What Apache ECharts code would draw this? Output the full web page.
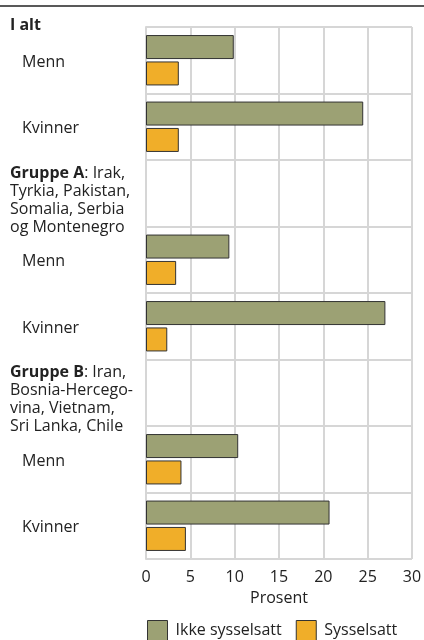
<!DOCTYPE html>
<html>
<head>
<meta charset="utf-8">
<script src="https://cdn.jsdelivr.net/npm/echarts@6/dist/echarts.min.js"></script>
<style>
html, body { margin: 0; padding: 0; background: #fff; }
#container { width: 424px; height: 640px; }
</style>
</head>
<body>
<div id="container"></div>
<script>
var categories = ['Menn', 'Kvinner', 'Gruppe A', 'Menn', 'Kvinner', 'Gruppe B', 'Menn', 'Kvinner'];
var ikkeSysselsatt = [9.9, 24.5, null, 9.4, 27.0, null, 10.4, 20.7];
var sysselsatt = [3.7, 3.7, null, 3.4, 2.4, null, 4.0, 4.5];
var xTicks = [0, 5, 10, 15, 20, 25, 30];

var groupText = {
    'Gruppe A': '{b|Gruppe A}{n|: Irak,}\n{n|Tyrkia, Pakistan,}\n{n|Somalia, Serbia}\n{n|og Montenegro}',
    'Gruppe B': '{b|Gruppe B}{n|: Iran,}\n{n|Bosnia-Hercego-}\n{n|vina, Vietnam,}\n{n|Sri Lanka, Chile}'
};

var font = '"Open Sans", "Noto Sans", sans-serif';
var dom = document.getElementById('container');
var myChart = echarts.init(dom);

var yData = categories.map(function (c) {
    if (groupText[c]) {
        return { value: c, textStyle: { align: 'left', padding: [14, 0, 0, 0] } };
    }
    return c;
});

option = {
    textStyle: { fontFamily: font },
    title: {
        text: 'I alt',
        left: 10,
        top: 17,
        padding: 0,
        textStyle: { fontSize: 16, fontWeight: 'bold', color: '#222', fontFamily: font }
    },
    graphic: [{
        type: 'line',
        shape: { x1: 0, y1: 6, x2: 424, y2: 6 },
        style: { stroke: '#222', lineWidth: 1.5 }
    }],
    legend: {
        left: 147,
        top: 620,
        padding: 0,
        itemWidth: 20,
        itemHeight: 20,
        itemGap: 14,
        icon: 'rect',
        itemStyle: { borderColor: '#333', borderWidth: 1 },
        textStyle: { fontSize: 16, color: '#222', padding: [0, 0, 0, 3] },
        data: ['Ikke sysselsatt', 'Sysselsatt']
    },
    grid: { left: 146, right: 12, top: 27, bottom: 81, containLabel: false, outerBoundsMode: 'none' },
    xAxis: {
        type: 'value',
        min: 0,
        max: 30,
        interval: 5,
        name: 'Prosent',
        nameLocation: 'middle',
        nameGap: 31,
        nameTextStyle: { fontSize: 16, color: '#222' },
        axisLine: { show: false },
        axisTick: { show: false },
        axisLabel: {
            fontSize: 16,
            color: '#222',
            margin: 10,
            customValues: xTicks
        },
        splitLine: { show: true, lineStyle: { color: '#d6d6d6', width: 2 } }
    },
    yAxis: {
        type: 'category',
        inverse: true,
        data: yData,
        axisLine: { show: true, lineStyle: { color: '#d6d6d6', width: 2 } },
        axisTick: { show: false },
        splitLine: { show: true, interval: 0, lineStyle: { color: '#d6d6d6', width: 2 } },
        axisLabel: {
            interval: 0,
            align: 'left',
            margin: 136,
            fontSize: 16,
            color: '#222',
            lineHeight: 18,
            formatter: function (v) {
                if (groupText[v]) return groupText[v];
                return '{s|' + v + '}';
            },
            rich: {
                b: { fontWeight: 'bold', fontSize: 16, color: '#222', lineHeight: 18, fontFamily: font },
                n: { fontSize: 16, color: '#222', lineHeight: 18, fontFamily: font },
                s: { fontSize: 16, color: '#222', padding: [4, 0, 0, 12], fontFamily: font }
            }
        }
    },
    series: [
        {
            name: 'Ikke sysselsatt',
            type: 'bar',
            barWidth: 24,
            barGap: '10%',
            data: ikkeSysselsatt,
            itemStyle: { color: '#9ca174', borderColor: '#333', borderWidth: 1 }
        },
        {
            name: 'Sysselsatt',
            type: 'bar',
            barWidth: 24,
            data: sysselsatt,
            itemStyle: { color: '#f0ae29', borderColor: '#333', borderWidth: 1 }
        }
    ]
};
myChart.setOption(option, true);
</script>
</body>
</html>
